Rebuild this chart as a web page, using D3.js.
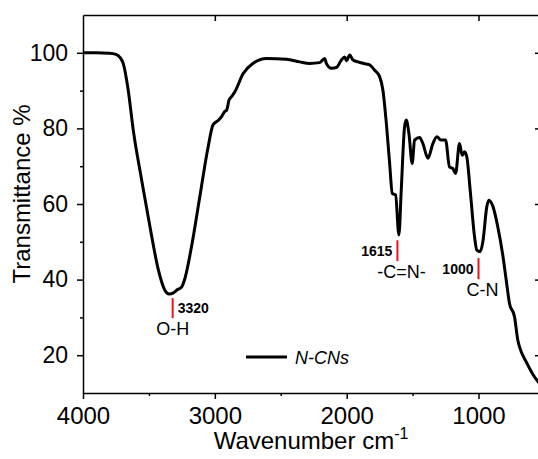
<!DOCTYPE html>
<html>
<head>
<meta charset="utf-8">
<script src="https://cdn.jsdelivr.net/npm/d3@7"></script>
<style>
  body { margin: 0; background: #fff; }
  svg { display: block; font-family: "Liberation Sans", Arial, sans-serif; }
</style>
</head>
<body>
<div id="canvas"></div>
<script>
// spectrum (wavenumber cm-1, transmittance %)
const wavenumber = [4000, 3900, 3800, 3750, 3720, 3695, 3657, 3619, 3555, 3492, 3428, 3379, 3346, 3315, 3290, 3251, 3227, 3177, 3114, 3051, 3013, 2975, 2949, 2924, 2911, 2892, 2873, 2848, 2785, 2710, 2608, 2457, 2356, 2280, 2205, 2167, 2154, 2116, 2078, 2040, 2015, 2002, 1977, 1952, 1914, 1850, 1826, 1788, 1750, 1725, 1699, 1674, 1654, 1629, 1604, 1586, 1561, 1548, 1528, 1503, 1485, 1447, 1422, 1384, 1346, 1316, 1283, 1250, 1220, 1195, 1174, 1144, 1124, 1106, 1089, 1061, 1030, 1013, 987, 967, 937, 922, 892, 854, 816, 790, 765, 727, 702, 689, 639, 576, 530];
const transmittance = [100, 100, 99.9, 99.6, 98.8, 97.2, 90.1, 79.6, 66.3, 54, 42.5, 37.2, 36.2, 36.5, 37.2, 38.1, 40.3, 48.7, 61.9, 75.1, 81, 82.1, 83.1, 84.5, 84.8, 87.5, 88.4, 89.7, 94.5, 97.2, 98.5, 98.3, 97.6, 97.2, 97.4, 98.5, 97.2, 95.9, 96.1, 98.1, 98.9, 97.9, 99.4, 98.1, 97.6, 97, 96.8, 95.4, 93.7, 90.1, 81.3, 70.7, 62.8, 62.4, 51.8, 63.7, 80.4, 82.2, 78.7, 70.7, 76.9, 77.6, 76, 72.1, 76, 77.8, 76.9, 76.9, 69.8, 69.4, 68.1, 76, 72.9, 73.8, 72.5, 62.8, 51.3, 47.8, 47.4, 50, 59.3, 61, 59.5, 54, 46.5, 39.9, 33.7, 30.2, 24, 22.2, 18.3, 14.3, 12.2];

// peak annotations
const peakWn = [3320, 1615, 1000];
const peakLabel = ["3320", "1615", "1000"];
const peakGroup = ["O-H", "-C=N-", "C-N"];
const markTop = [35.1, 50.4, 45.7];
const markBottom = [29.8, 44.9, 40.1];

const xMajor = [4000, 3000, 2000, 1000];
const xMinor = [3500, 2500, 1500];
const yMajor = [20, 40, 60, 80, 100];
const yMinor = [30, 50, 70, 90];

let width = 538;
let height = 459;
let margin = { top: 15, left: 83, right: -3, bottom: 66 };

let x = d3.scaleLinear()
  .domain([4000, 526])
  .range([margin.left, width - margin.right]);
let y = d3.scaleLinear()
  .domain([10, 110])
  .range([height - margin.bottom, margin.top]);

let svg = d3.select("#canvas")
  .append("svg")
  .attr("width", width)
  .attr("height", height);

let x0 = margin.left, x1 = width - margin.right;
let y0 = height - margin.bottom, y1 = margin.top;

// axes
function styleAxis(g) {
  g.selectAll("path, line").attr("stroke", "#000").attr("stroke-width", 1.5);
  g.selectAll("text").attr("fill", "#000").attr("font-family", "Liberation Sans, Arial, sans-serif");
}

svg.append("g")
  .attr("transform", "translate(0," + y0 + ")")
  .call(d3.axisBottom(x).tickValues(xMajor).tickSize(6).tickSizeOuter(0).tickPadding(8).tickFormat(d3.format("d")))
  .call(styleAxis)
  .selectAll("text").attr("font-size", 24);
svg.append("g")
  .attr("transform", "translate(0," + y0 + ")")
  .call(d3.axisBottom(x).tickValues(xMinor).tickSize(3).tickSizeOuter(0).tickFormat(""))
  .call(styleAxis)
  .select(".domain").remove();

svg.append("g")
  .attr("transform", "translate(" + x0 + ",0)")
  .call(d3.axisLeft(y).tickValues(yMajor).tickSize(6).tickSizeOuter(0).tickPadding(9))
  .call(styleAxis)
  .selectAll("text").attr("font-size", 23);
svg.append("g")
  .attr("transform", "translate(" + x0 + ",0)")
  .call(d3.axisLeft(y).tickValues(yMinor).tickSize(3).tickSizeOuter(0).tickFormat(""))
  .call(styleAxis)
  .select(".domain").remove();

svg.append("g")
  .attr("transform", "translate(0," + y1 + ")")
  .call(d3.axisTop(x).tickValues(xMajor.slice(1)).tickSize(-6).tickSizeOuter(0).tickFormat(""))
  .call(styleAxis);

svg.append("g")
  .attr("transform", "translate(" + x1 + ",0)")
  .call(d3.axisRight(y).tickValues(yMajor).tickSize(-6).tickSizeOuter(0).tickFormat(""))
  .call(styleAxis);

// spectrum
let points = wavenumber.map((w, i) => [w, transmittance[i]]);
let line = d3.line()
  .x(d => x(d[0]))
  .y(d => y(d[1]))
  .curve(d3.curveMonotoneX);

svg.append("path")
  .datum(points)
  .attr("d", line)
  .attr("fill", "none")
  .attr("stroke", "#000")
  .attr("stroke-width", 3)
  .attr("stroke-linejoin", "round");

// peak markers
peakWn.forEach((w, i) => {
  let px = x(w);
  svg.append("line")
    .attr("x1", px).attr("x2", px)
    .attr("y1", y(markTop[i])).attr("y2", y(markBottom[i]))
    .attr("stroke", "#e8141c")
    .attr("stroke-width", 2);
  let lbl = svg.append("text")
    .attr("font-size", 14)
    .attr("font-weight", "bold")
    .attr("y", y(markBottom[i]) - 5)
    .text(peakLabel[i]);
  if (i === 0) lbl.attr("x", px + 5);
  else lbl.attr("x", px - 5).attr("text-anchor", "end");
  svg.append("text")
    .attr("font-size", 18)
    .attr("text-anchor", "middle")
    .attr("x", px + (i === 0 ? 0 : 4))
    .attr("y", y(markBottom[i]) + 17)
    .text(peakGroup[i]);
});

// legend
let legend = svg.append("g").attr("transform", "translate(246,357)");
legend.append("line")
  .attr("x1", 0).attr("x2", 41)
  .attr("stroke", "#000").attr("stroke-width", 3);
legend.append("text")
  .attr("x", 49).attr("y", 6.5)
  .attr("font-size", 18)
  .attr("font-style", "italic")
  .text("N-CNs");

// axis titles
let xt = svg.append("text")
  .attr("x", 311)
  .attr("y", 449)
  .attr("text-anchor", "middle")
  .attr("font-size", 24);
xt.append("tspan").text("Wavenumber cm");
xt.append("tspan").attr("font-size", 16).attr("dy", -10).text("-1");

svg.append("text")
  .attr("transform", "translate(30,194) rotate(-90)")
  .attr("text-anchor", "middle")
  .attr("font-size", 24)
  .text("Transmittance %");
</script>
</body>
</html>
